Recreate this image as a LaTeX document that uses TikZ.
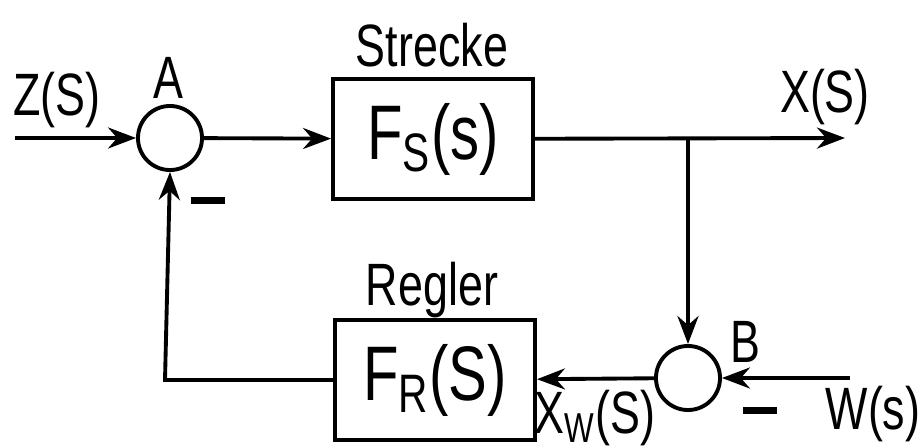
\documentclass[tikz,border=0pt]{standalone}
\usepackage{fontspec}
\setmainfont[FakeStretch=0.75]{Liberation Sans}
\usetikzlibrary{positioning,arrows.meta}
\tikzset{
	block/.style={draw,line width=1.1pt,minimum width=2cm,minimum height=1.2cm,font=\fontsize{22}{24}\selectfont},
	sumpt/.style={draw,circle,line width=1.1pt,minimum size=0.64cm,inner sep=0pt},
	lbl/.style={font=\fontsize{17}{20}\selectfont,inner sep=1pt},
	minus/.style={inner sep=0pt},
	sig/.style={line width=1.1pt},
}
\begin{document}
\begin{tikzpicture}[>=Stealth,x=0.01cm,y=-0.01cm]
	\useasboundingbox (0,0) rectangle (923,448);
	% summing points
	\node[sumpt] (A) at (170,138) {};
	\node[sumpt] (B) at (688,378) {};
	% blocks
	\node[block] (Fs) at (433,139) {F\textsubscript{S}(s)};
	\node[block] (Fr) at (435,380) {F\textsubscript{R}(S)};
	\node[lbl] (st) at (432,45) {Strecke};
	\node[lbl] (rg) at (432,290) {Regler};
	% free ends
	\coordinate (zin) at (15,138);
	\coordinate (xout) at (845,138);
	\coordinate (br) at (688,138);
	\coordinate (win) at (850,378);
	\coordinate (fb) at (165,380);
	% signals
	\draw[sig,->] (zin) -- (A);
	\draw[sig,->] (A) -- (Fs);
	\draw[sig,->] (Fs) -- (xout);
	\draw[sig,->] (br) -- (B);
	\draw[sig,->] (win) -- (B);
	\draw[sig,->] (B) -- (Fr);
	\draw[sig,->] (Fr.west) -- (fb) -- (A.south);
	% labels
	\node[lbl] (z) at (57,100) {Z(S)};
	\node[lbl] (x) at (825,97) {X(S)};
	\node[lbl] (a) at (168,78) {A};
	\node[lbl] (b) at (745,342) {B};
	\node[lbl] (w) at (873,414) {W(s)};
	\node[lbl] (xw) at (595,418) {X\textsubscript{W}(S)};
	\node[minus] (ma) at (208,200) {\rule{0.33cm}{0.07cm}};
	\node[minus] (mb) at (760,410) {\rule{0.33cm}{0.07cm}};
\end{tikzpicture}
\end{document}
